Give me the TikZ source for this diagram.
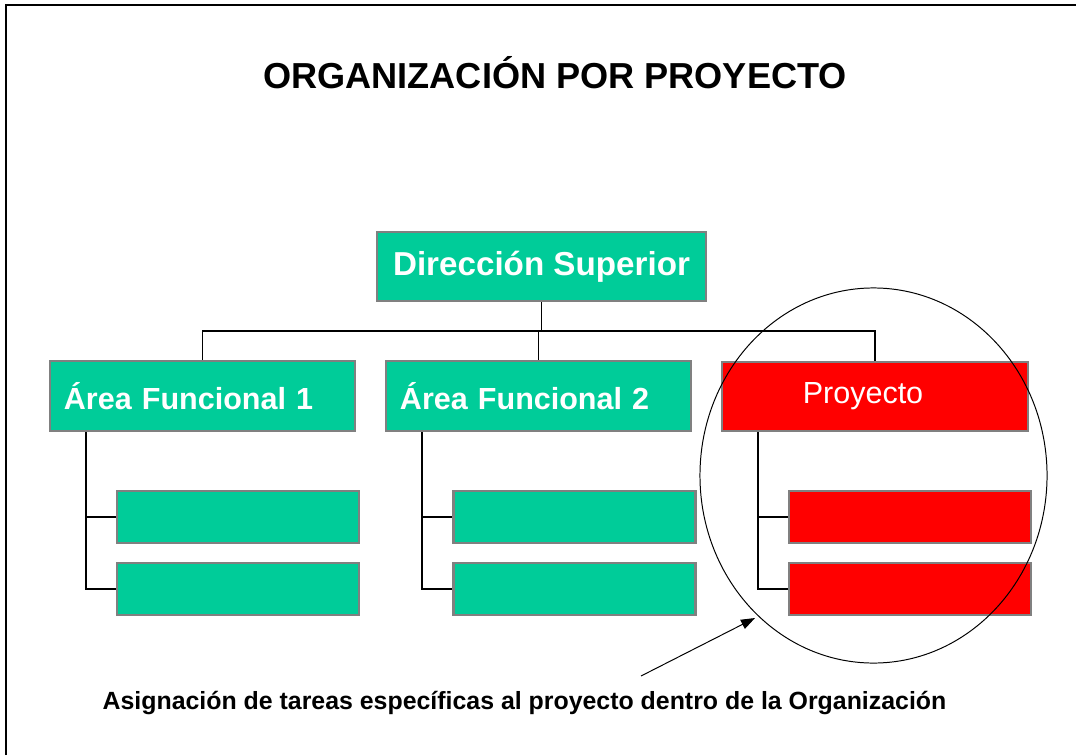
\documentclass[tikz,border=0pt]{standalone}
\usepackage{fontspec}
\setmainfont{Liberation Sans}
\usetikzlibrary{arrows.meta,shapes.geometric}
\definecolor{areagreen}{HTML}{00CC99}
\definecolor{proyred}{HTML}{FF0000}
\definecolor{boxgray}{HTML}{808080}
\begin{document}
\begin{tikzpicture}[x=0.025cm, y=-0.025cm,
  box/.style={draw=boxgray, line width=1.8pt, inner sep=0pt, text=white},
  areabox/.style={box, fill=areagreen, minimum width=7.625cm, minimum height=1.75cm,
    text width=6.925cm, inner xsep=0.35cm, align=left,
    font=\fontsize{21.7}{26}\selectfont\bfseries},
  subbox/.style={box, minimum width=6.05cm, minimum height=1.3cm},
  link/.style={line width=1.4pt}]
\useasboundingbox (0,0) rectangle (1076,755);
\draw[line width=1.4pt] (6,755) -- (6,5) -- (1076,5);

\node[font=\fontsize{25.7}{30}\selectfont\bfseries] (title) at (555,73) {ORGANIZACIÓN POR PROYECTO};

\node[box, fill=areagreen, minimum width=8.225cm, minimum height=1.725cm,
  font=\fontsize{23.6}{28}\selectfont\bfseries] (dir) at (541.5,266.5) {Dirección Superior};

\node[areabox] (area1) at (202.5,396) {Área Funcional 1};
\node[areabox] (area2) at (538.5,396) {Área Funcional 2};
\node[box, fill=proyred, minimum width=7.65cm, minimum height=1.725cm,
  font=\fontsize{21.7}{26}\selectfont] (proy) at (875,396.5) {\hspace*{-0.6cm}Proyecto};

\node[subbox, fill=areagreen] (sub11) at (238,517) {};
\node[subbox, fill=areagreen] (sub12) at (238,589) {};
\node[subbox, fill=areagreen] (sub21) at (574.5,517) {};
\node[subbox, fill=areagreen] (sub22) at (574.5,589) {};
\node[subbox, fill=proyred] (sub31) at (910,517) {};
\node[subbox, fill=proyred] (sub32) at (910,589) {};

% conectores
\coordinate (bus) at (541.5,331);
\draw[link] (dir.south) -- (bus);
\draw[link] (area1.north) |- (bus) -| (proy.north);
\draw[link] (area2.north) -- (area2.north |- bus);
\foreach \a/\s in {area1/sub1, area2/sub2, proy/sub3}{
  \draw[link] ([xshift=0.925cm]\a.south west) |- (\s1.west);
  \draw[link] ([xshift=0.925cm]\a.south west) |- (\s2.west);
}

\node[draw, ellipse, line width=0.7pt, minimum width=8.675cm, minimum height=9.375cm,
  inner sep=0pt] (focus) at (873.5,475.5) {};

\node[font=\fontsize{17.7}{21}\selectfont\bfseries] (note) at (524.5,703)
  {Asignación de tareas específicas al proyecto dentro de la Organización};
\coordinate (tail) at (641,676);
\draw[line width=0.7pt, -{Triangle[length=0.35cm, width=0.25cm]}] (tail) -- (755,618);
\end{tikzpicture}
\end{document}
